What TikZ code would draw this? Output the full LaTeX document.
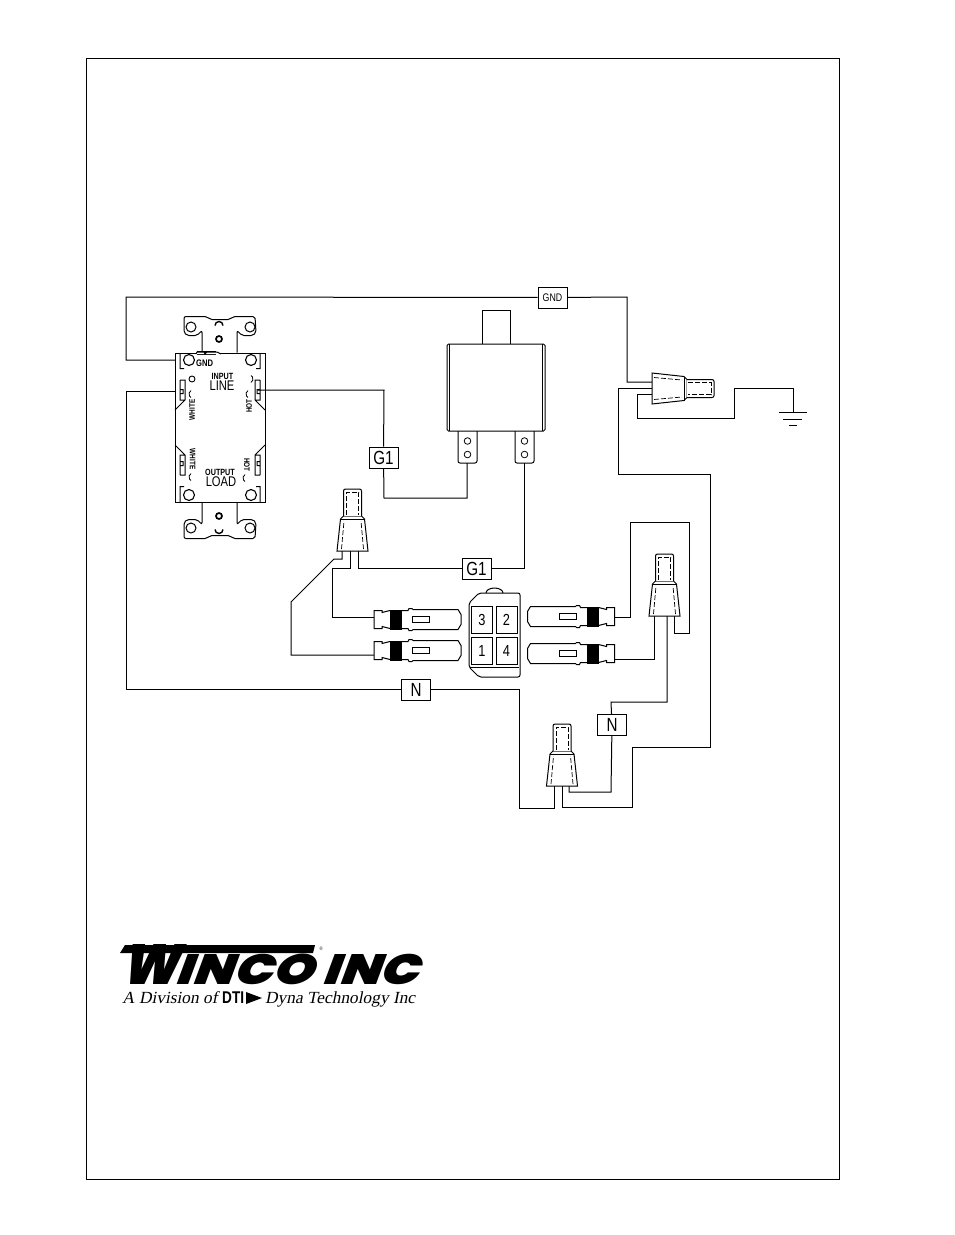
\documentclass[tikz,border=0pt]{standalone}
\usepackage{fontspec}
\setsansfont[FakeStretch=0.8]{Liberation Sans}
\newfontfamily\logofont[FakeSlant=0.3]{Poppins Black}
\newfontfamily\divfont[FakeSlant=0.2,FakeStretch=1.02]{Liberation Serif}
\usetikzlibrary{positioning}

\tikzset{
    wire/.style={line width=1pt},
    part/.style={line width=1pt},
    labelbox/.style={draw,fill=white,line width=1pt,inner sep=0pt,minimum width=29pt,minimum height=21pt,font=\sffamily\fontsize{19}{19}\selectfont},
    pinbox/.style={draw,line width=1pt,inner sep=0pt,minimum width=21pt,minimum height=27pt,font=\sffamily\fontsize{16}{16}\selectfont},
    rectext/.style={inner sep=0pt,font=\sffamily\bfseries\fontsize{8}{8}\selectfont},
    wirenut/.pic={
        \draw[part,fill=white] (-15.5,0) -- (-12,-32) -- (-9,-35) -- (9,-35) -- (12,-32) -- (15.5,0) -- cycle;
        \draw[part] (-12,-32) -- (12,-32);
        \draw[part,fill=white,rounded corners=2pt] (-9,-35) -- (-9,-62) -- (9,-62) -- (9,-35);
        \draw[line width=0.7pt,dashed,dash pattern=on 5pt off 2pt] (-11,-2) -- (-8.5,-30) (11,-2) -- (8.5,-30);
        \draw[line width=0.7pt,dashed,dash pattern=on 5pt off 2pt] (-6,-36) -- (-6,-59) -- (6,-59) -- (6,-36);
    },
    spade/.pic={
        \draw[part,fill=white] (0,-9) -- (8,-9) -- (8,-7) -- (16,-9) -- (34,-9) -- (35,-11) -- (38,-11) -- (39,-10)
            -- (84,-10) -- (87,-5) -- (87,5) -- (84,10) -- (39,10) -- (38,11) -- (35,11) -- (34,9)
            -- (16,9) -- (8,7) -- (8,9) -- (0,9) -- cycle;
        \fill[black] (16,-10) rectangle (28,10);
        \draw[line width=0.9pt] (38,-3) rectangle (55,3);
    }
}

\begin{document}
\begin{tikzpicture}[x=1pt,y=-1pt]
    \useasboundingbox (0,0) rectangle (954,1235);
    \draw[line width=1pt] (86,58) rectangle (839,1179);

    % wire ends
    \coordinate (recGnd) at (175,360);
    \coordinate (recWhite) at (175,391);
    \coordinate (recHot) at (258,390);
    \coordinate (brkA) at (467,463);
    \coordinate (brkB) at (524,463);
    \coordinate (nutAa) at (342,551);
    \coordinate (nutAb) at (350,551);
    \coordinate (nutAc) at (358,551);
    \coordinate (nutBa) at (654,616);
    \coordinate (nutBb) at (667,616);
    \coordinate (nutBc) at (674,616);
    \coordinate (nutCa) at (554,786);
    \coordinate (nutCb) at (562,786);
    \coordinate (nutCc) at (569,786);
    \coordinate (nutDa) at (652,382);
    \coordinate (nutDb) at (652,388);
    \coordinate (nutDc) at (652,394);
    \coordinate (spadeA) at (374,617);
    \coordinate (spadeB) at (374,655);
    \coordinate (spadeC) at (614,617);
    \coordinate (spadeD) at (614,659);
    \coordinate (earth) at (793,412);

    % labels
    \node[labelbox,font=\sffamily\fontsize{11}{11}\selectfont] (gndBox) at (552.5,297.5) {GND};
    \node[labelbox] (gOneA) at (383.5,457.5) {G1};
    \node[labelbox] (gOneB) at (476.5,568.5) {G1};
    \node[labelbox] (nBoxA) at (416,689.5) {N};
    \node[labelbox] (nBoxB) at (612,725) {N};

    % wiring
    \draw[wire] (recGnd) -- (126,360) -- (126,297) -- (gndBox);
    \draw[wire] (gndBox) -- (627,297) -- (627,382) -- (nutDa);
    \draw[wire] (recWhite) -- (126,391) -- (126,689.5) -- (nBoxA);
    \draw[wire] (nBoxA) -- (519,689.5) -- (519,808) -- (554,808) -- (nutCa);
    \draw[wire] (recHot) -- (384,390) -- (gOneA);
    \draw[wire] (gOneA) -- (384,498) -- (467,498) -- (brkA);
    \draw[wire] (brkB) -- (524,568.5) -- (gOneB);
    \draw[wire] (gOneB) -- (358,568.5) -- (nutAc);
    \draw[wire] (nutAa) -- (342,559) -- (334,559) -- (291,602) -- (291,655) -- (spadeB);
    \draw[wire] (nutAb) -- (350,568) -- (332,568) -- (332,617) -- (spadeA);
    \draw[wire] (spadeC) -- (630,617) -- (630,522) -- (689,522) -- (689,633) -- (674,633) -- (nutBc);
    \draw[wire] (spadeD) -- (654,659) -- (nutBa);
    \draw[wire] (nutBb) -- (667,702) -- (611,702) -- (nBoxB);
    \draw[wire] (nBoxB) -- (611,792) -- (569,792) -- (nutCc);
    \draw[wire] (nutCb) -- (562,807) -- (632,807) -- (632,747) -- (710,747) -- (710,474) -- (618,474) -- (618,388) -- (nutDb);
    \draw[wire] (nutDc) -- (637,394) -- (637,418) -- (734,418) -- (734,388) -- (793,388) -- (earth);

    % wire nuts
    \pic at (352.5,551) {wirenut};
    \pic at (664.5,616) {wirenut};
    \pic at (562,786) {wirenut};
    \pic[rotate=-90] at (652,388.5) {wirenut};

    % spade terminals
    \pic at (374,619.5) {spade};
    \pic at (374,650.5) {spade};
    \pic[xscale=-1] at (614.5,616.5) {spade};
    \pic[xscale=-1] at (614.5,653.5) {spade};

    % ground
    \draw[part] (779,412.5) -- (807,412.5) (783,419) -- (802,419) (789,425) -- (797,425);

    % breaker
    \draw[part] (482,344) -- (482,310) -- (510,310) -- (510,344);
    \draw[part,rounded corners=1.5pt] (447,344) rectangle (545,431);
    \draw[part] (449.5,344) -- (449.5,431) (542.5,344) -- (542.5,431);
    \foreach \tx in {467.5,524.5} {
        \draw[part,rounded corners=2pt] (\tx-9.5,431) -- (\tx-9.5,463) -- (\tx+9.5,463) -- (\tx+9.5,431);
        \draw[line width=0.8pt] (\tx,441) circle (3.3pt) (\tx,454.5) circle (3.3pt);
    }

    % connector block
    \draw[part,rounded corners=2pt] (479,593) -- (520,593) -- (520,677) -- (479,677) -- (469,667) -- (469,603) -- cycle;
    \draw[part] (486,593) arc (180:0:8.5pt and 5pt);
    \draw[part] (470,667) -- (519,667);
    \node[pinbox] (pinC) at (482,620) {3};
    \node[pinbox] (pinB) at (506.5,620) {2};
    \node[pinbox] (pinA) at (482,650.5) {1};
    \node[pinbox] (pinD) at (506.5,650.5) {4};

    % receptacle
    \draw[part] (175,353) rectangle (265,502);
    \foreach \sy in {1,-1} {
        \begin{scope}[shift={(220,427.5)},yscale=\sy]
            \draw[part,rounded corners=2pt] (-18,-75) -- (-18,-97) -- (-23,-92) -- (-33,-92) -- (-36,-95) -- (-36,-111) -- (-13,-111) -- (-10,-108)
                -- (10,-108) -- (13,-111) -- (35,-111) -- (36,-95) -- (33,-92) -- (22,-92) -- (17,-97) -- (17,-75);
            \draw[line width=1pt] (-29,-100.5) circle (5pt) (30,-100.5) circle (5pt);
            \draw[line width=1.7pt] (-1,-88.5) circle (3pt);
            \draw[line width=1.4pt] (-5,-102) arc (180:0:4pt);
            \draw[line width=1.1pt] (-31,-67.5) circle (5.5pt) (31,-67.5) circle (5.5pt);
        \end{scope}
        \foreach \sx in {1,-1} {
            \draw[part,shift={(220,427.5)},xscale=\sx,yscale=\sy] (-40,-74.5) -- (-40,-59) -- (-36,-59)
                (-40,-47.5) -- (-40,-34) -- (-37,-34) -- (-37,-38) -- (-40,-38)
                (-40,-47.5) -- (-35,-47.5) -- (-35,-27.5) -- (-45,-17.5)
                (-40,-34) -- (-40,-27.5) -- (-35,-27.5);
        }
    }
    \fill (197,351) rectangle (216,355);
    \draw[part,fill=white] (196,354) -- (197,352) -- (204,352) -- (205,354) -- (207,352) -- (217,352) -- (221,354);

    % receptacle marks
    \draw[line width=0.9pt] (192,379) circle (3pt);
    \draw[line width=0.8pt] (193,394) ++(120:4pt) arc (120:240:4pt);
    \draw[line width=0.8pt] (249,379) ++(-60:4pt) arc (-60:60:4pt);
    \draw[line width=0.8pt] (250,394) ++(120:4pt) arc (120:240:4pt);
    \draw[line width=0.8pt] (193,477) ++(120:4pt) arc (120:240:4pt);
    \draw[line width=0.8pt] (247,478) ++(120:4pt) arc (120:240:4pt);

    \node[rectext,font=\sffamily\bfseries\fontsize{9.5}{9.5}\selectfont,anchor=west] (recGndText) at (196,363) {GND};
    \node[rectext,font=\sffamily\bfseries\fontsize{9}{9}\selectfont] (recInput) at (222.5,376) {INPUT};
    \node[rectext,font=\sffamily\fontsize{14}{14}\selectfont] (recLine) at (222,386) {LINE};
    \node[rectext,font=\sffamily\bfseries\fontsize{9}{9}\selectfont] (recOutput) at (220,472) {OUTPUT};
    \node[rectext,font=\sffamily\fontsize{14}{14}\selectfont] (recLoad) at (221,481.5) {LOAD};
    \node[rectext,rotate=90] (whiteA) at (192,410) {WHITE};
    \node[rectext,rotate=-90] (whiteB) at (192.5,459) {WHITE};
    \node[rectext,rotate=90] (hotA) at (249,406) {HOT};
    \node[rectext,rotate=-90] (hotB) at (247,465) {HOT};

    % logo
    \fill (120,953) -- (125,945) -- (315,945) -- (313,953) -- cycle;
    \node[anchor=south west,inner sep=0pt] (logoName) at (120,985) {\resizebox{298pt}{40pt}{\logofont W\hspace{-0.05em}\scalebox{1}[0.75]{INCO INC}}};
    \node[inner sep=0pt,font=\sffamily\fontsize{5}{5}\selectfont] (logoReg) at (321,949) {\textregistered};
    \node[anchor=base west,inner sep=0pt,font=\divfont\fontsize{17}{17}\selectfont] (logoDiv) at (122,1003) {A Division of};
    \node[anchor=base west,inner sep=0pt,font=\bfseries\sffamily\fontsize{17}{17}\selectfont] (logoDti) at (222,1003) {DTI};
    \fill (246,992) -- (262,998) -- (246,1004) -- cycle;
    \node[anchor=base west,inner sep=0pt,font=\divfont\fontsize{17}{17}\selectfont] (logoDyna) at (265,1003) {Dyna Technology Inc};
\end{tikzpicture}
\end{document}
